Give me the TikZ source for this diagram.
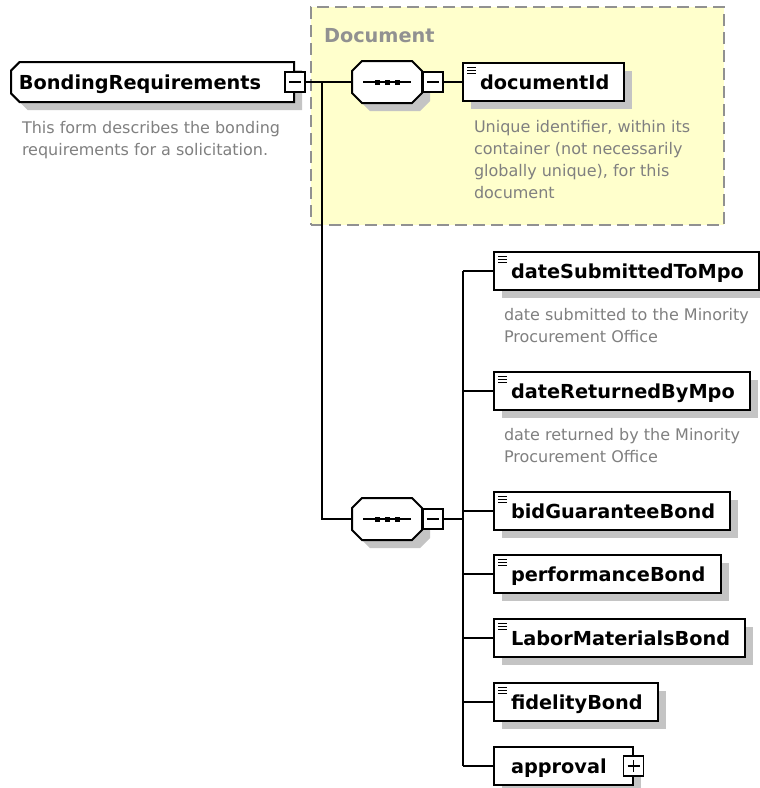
\documentclass[tikz,border=0pt]{standalone}
\usepackage{fontspec}
\setmainfont{DejaVu Sans}
\usepackage{xcolor}
\usetikzlibrary{shapes.misc}
\usetikzlibrary{shadows}

\definecolor{docyellow}{RGB}{255,255,204}
\definecolor{descgray}{RGB}{128,128,128}
\definecolor{framegray}{RGB}{145,145,145}
\definecolor{shadegray}{RGB}{196,196,196}

\begin{document}
\begin{tikzpicture}
		[x=1pt,y=-1pt,line width=2pt,
		shade8/.style={general shadow={fill=shadegray,shadow xshift=8pt,shadow yshift=-8pt}},
		elem/.style={draw,fill=white,shade8,rectangle,anchor=west,minimum height=38pt,inner xsep=0pt,inner ysep=0pt,
			text height=15pt,text depth=1pt,font=\fontsize{19.3}{23}\selectfont\bfseries,
			execute at begin node=\hspace*{17pt}},
		simple/.style={elem,execute at end node=\hspace*{15pt},
			path picture={\foreach \dy in {4,7,10}
				\draw[line width=1pt] ([shift={(4pt,-\dy pt)}]path picture bounding box.north west) -- ++(9pt,0pt);}},
		complex/.style={elem,execute at end node=\hspace*{26pt}},
		rootbox/.style={draw,fill=white,shade8,chamfered rectangle,chamfered rectangle corners={north west,south west},
			chamfered rectangle xsep=5pt,anchor=west,minimum height=40pt,inner xsep=0pt,inner ysep=0pt,
			text height=15pt,text depth=1pt,font=\fontsize{19.3}{23}\selectfont\bfseries,
			execute at begin node=\hspace*{3pt},execute at end node=\hspace*{28pt}},
		seqbox/.style={rectangle,minimum width=68pt,minimum height=40pt,inner sep=0pt},
		seqshadow/.style={fill=shadegray,transform canvas={shift={(8pt,-8pt)}}},
		pmbox/.style={draw,fill=white,rectangle,minimum size=20pt,inner sep=0pt,line width=1.5pt},
		minus/.style={pmbox,path picture={\draw[line width=1.2pt] ([xshift=4pt]path picture bounding box.west) -- ([xshift=-4pt]path picture bounding box.east);}},
		plus/.style={pmbox,path picture={\draw[line width=1.2pt] ([xshift=4pt]path picture bounding box.west) -- ([xshift=-4pt]path picture bounding box.east)
			([yshift=-4pt]path picture bounding box.north) -- ([yshift=4pt]path picture bounding box.south);}},
		desc/.style={anchor=north west,align=left,inner sep=0pt,text=descgray,font=\fontsize{16}{22}\selectfont},
		docframe/.style={draw=framegray,fill=docyellow,dash pattern=on 12pt off 6pt,rectangle,anchor=north west,
			minimum width=413pt,minimum height=218pt,inner sep=0pt},
		grptitle/.style={anchor=base west,inner sep=0pt,text=framegray,font=\fontsize{19.3}{23}\selectfont\bfseries}]
		\useasboundingbox (0,0) rectangle (760,788);
		\fill [white] (0,0) rectangle (760,788);
		% the Document group
		\node [docframe] (grp) at (310,6) {};
		\node [grptitle] (grpname) at (323,42) {Document};
		% root element
		\node [rootbox] (root) at (10,82) {BondingRequirements};
		\node [minus] (rootpm) at (root.east) {};
		\node [desc] (rootdesc) at (21,120) {This form describes the bonding\\requirements for a solicitation.};
		% sequence compositors
		\node [seqbox] (seq1) at (387,82) {};
		\node [seqbox] (seq2) at (387,519) {};
		\foreach \s in {seq1,seq2} {
			\path [draw,fill=white,preaction={seqshadow}]
				([xshift=10pt]\s.north west) -- ([xshift=-10pt]\s.north east) -- ([yshift=-10pt]\s.north east)
				-- ([yshift=10pt]\s.south east) -- ([xshift=-10pt]\s.south east) -- ([xshift=10pt]\s.south west)
				-- ([yshift=10pt]\s.south west) -- ([yshift=-10pt]\s.north west) -- cycle;
			\draw [line width=1.4pt] ([xshift=-24pt]\s.center) -- ([xshift=24pt]\s.center);
			\foreach \dx in {-10,0,10}
				\fill ([xshift=\dx pt]\s.center) ++(-2.5pt,-2.5pt) rectangle ++(5pt,5pt);
		}
		\node [minus,anchor=west] (seq1pm) at (seq1.east) {};
		\node [minus,anchor=west] (seq2pm) at (seq2.east) {};
		\node [simple] (docid) at (462,82) {documentId};
		\node [desc] (dociddesc) at (473,119) {Unique identifier, within its\\container (not necessarily\\globally unique), for this\\document};
		% children of the second sequence
		\node [simple] (e1) at (493,271) {dateSubmittedToMpo};
		\node [desc] (e1desc) at (503,307) {date submitted to the Minority\\Procurement Office};
		\node [simple] (e2) at (493,391) {dateReturnedByMpo};
		\node [desc] (e2desc) at (503,427) {date returned by the Minority\\Procurement Office};
		\node [simple] (e3) at (493,511) {bidGuaranteeBond};
		\node [simple] (e4) at (493,574) {performanceBond};
		\node [simple] (e5) at (493,638) {LaborMaterialsBond};
		\node [simple] (e6) at (493,702) {fidelityBond};
		\node [complex] (e7) at (493,766) {approval};
		\node [plus] (e7pm) at (e7.east) {};
		\coordinate (j1) at (322,82);
		\coordinate (bus) at (463,519);
		\draw (rootpm.east) -- (seq1.west);
		\draw (j1) |- (seq2.west);
		\draw (seq1pm.east) -- (docid.west);
		\draw (seq2pm.east) -- (bus);
		\draw (e1.west -| bus) -- (e7.west -| bus);
		\foreach \e in {e1,e2,e3,e4,e5,e6,e7}
			\draw (\e.west -| bus) -- (\e.west);
	\end{tikzpicture}
\end{document}
